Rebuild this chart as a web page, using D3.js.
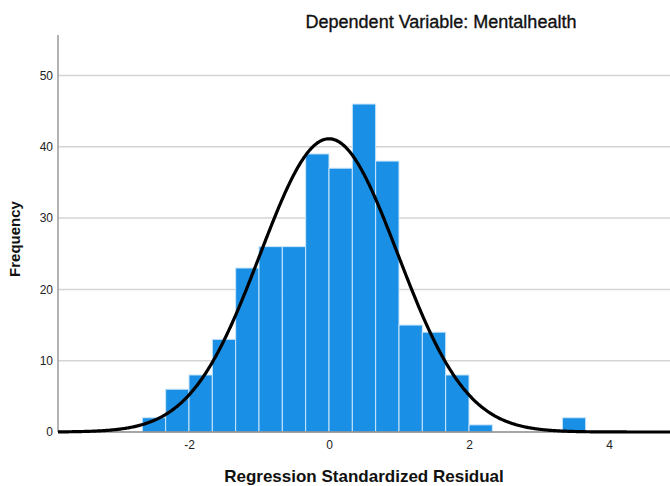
<!DOCTYPE html>
<html>
<head>
<meta charset="utf-8">
<script src="https://cdn.jsdelivr.net/npm/d3@7"></script>
<style>
  html, body { margin: 0; padding: 0; background: #fff; }
  svg { display: block; font-family: "Liberation Sans", Arial, sans-serif; }
</style>
</head>
<body>
<svg id="chart" width="670" height="486"></svg>
<script>
// ---- data ----
const binStarts = [-8/3, -7/3, -2, -5/3, -4/3, -1, -2/3, -1/3, 0, 1/3, 2/3, 1, 4/3, 5/3, 2, 10/3];
const counts    = [2, 6, 8, 13, 23, 26, 26, 39, 37, 46, 38, 15, 14, 8, 1, 2];
const binWidth = 1/3;
const xTicks = [-2, 0, 2, 4];
const yTicks = [0, 10, 20, 30, 40, 50];
const fitMean = 0;
const fitSD = 0.983;
const fitN = 304;
const titleText = "Dependent Variable: Mentalhealth";
const xLabel = "Regression Standardized Residual";
const yLabel = "Frequency";

// ---- layout ----
const plotL = 58, plotR = 670, plotT = 35, plotB = 432;
const svg = d3.select("#chart");

const x = d3.scaleLinear().domain([-3.871, 4.871]).range([plotL, plotR]);
const y = d3.scaleLinear().domain([0, 55.68]).range([plotB, plotT]);

// gridlines
svg.append("g").selectAll("line").data(yTicks.filter(d => d > 0)).join("line")
  .attr("x1", plotL).attr("x2", plotR)
  .attr("y1", d => y(d)).attr("y2", d => y(d))
  .attr("stroke", "#d4d4d4").attr("stroke-width", 1.5);

// bars
const bins = binStarts.map((s, i) => ({x0: s, x1: s + binWidth, n: counts[i]}));
svg.append("g").selectAll("rect").data(bins).join("rect")
  .attr("x", d => x(d.x0))
  .attr("width", d => x(d.x1) - x(d.x0))
  .attr("y", d => y(d.n))
  .attr("height", d => y(0) - y(d.n))
  .attr("fill", "#1990e5")
  .attr("stroke", "#cde6fa")
  .attr("stroke-width", 1);

// axes lines
svg.append("line").attr("x1", plotL).attr("x2", plotL).attr("y1", plotT).attr("y2", plotB)
  .attr("stroke", "#999").attr("stroke-width", 1.5);
svg.append("line").attr("x1", plotL).attr("x2", plotR).attr("y1", plotB).attr("y2", plotB)
  .attr("stroke", "#888").attr("stroke-width", 1.5);

// normal curve
const pts = d3.range(0, 601).map(i => {
  const xv = x.domain()[0] + (x.domain()[1] - x.domain()[0]) * i / 600;
  const z = (xv - fitMean) / fitSD;
  const f = fitN * binWidth * Math.exp(-0.5 * z * z) / (fitSD * Math.sqrt(2 * Math.PI));
  return [xv, f];
});
svg.append("path").datum(pts)
  .attr("d", d3.line().x(d => x(d[0])).y(d => y(d[1])))
  .attr("fill", "none").attr("stroke", "#000").attr("stroke-width", 3.2)
  .attr("stroke-linejoin", "round");

// y axis tick labels
const yAxis = d3.axisLeft(y).tickValues(yTicks).tickSize(0).tickPadding(5);
const gy = svg.append("g").attr("transform", `translate(${plotL},0)`).call(yAxis);
gy.select(".domain").remove();
gy.selectAll("text").attr("font-size", 12).attr("fill", "#222")
  .attr("font-family", "'Liberation Sans', Arial, sans-serif");

// x axis tick labels
const xAxis = d3.axisBottom(x).tickValues(xTicks).tickSize(0).tickPadding(8);
const gx = svg.append("g").attr("transform", `translate(0,${plotB})`).call(xAxis);
gx.select(".domain").remove();
gx.selectAll("text").attr("font-size", 12).attr("fill", "#222")
  .attr("font-family", "'Liberation Sans', Arial, sans-serif")
  .text(d => d < 0 ? "-" + Math.abs(d) : String(d));

// title
svg.append("text").attr("x", 441).attr("y", 28).attr("text-anchor", "middle")
  .attr("font-size", 18).attr("fill", "#111")
  .attr("stroke", "#111").attr("stroke-width", 0.35).text(titleText);

// x label
svg.append("text").attr("x", 364).attr("y", 482).attr("text-anchor", "middle")
  .attr("font-size", 17).attr("font-weight", "bold").attr("fill", "#111").text(xLabel);

// y label
svg.append("text").attr("transform", "translate(20,239) rotate(-90)").attr("text-anchor", "middle")
  .attr("font-size", 15).attr("font-weight", "bold").attr("fill", "#111").text(yLabel);
</script>
</body>
</html>
